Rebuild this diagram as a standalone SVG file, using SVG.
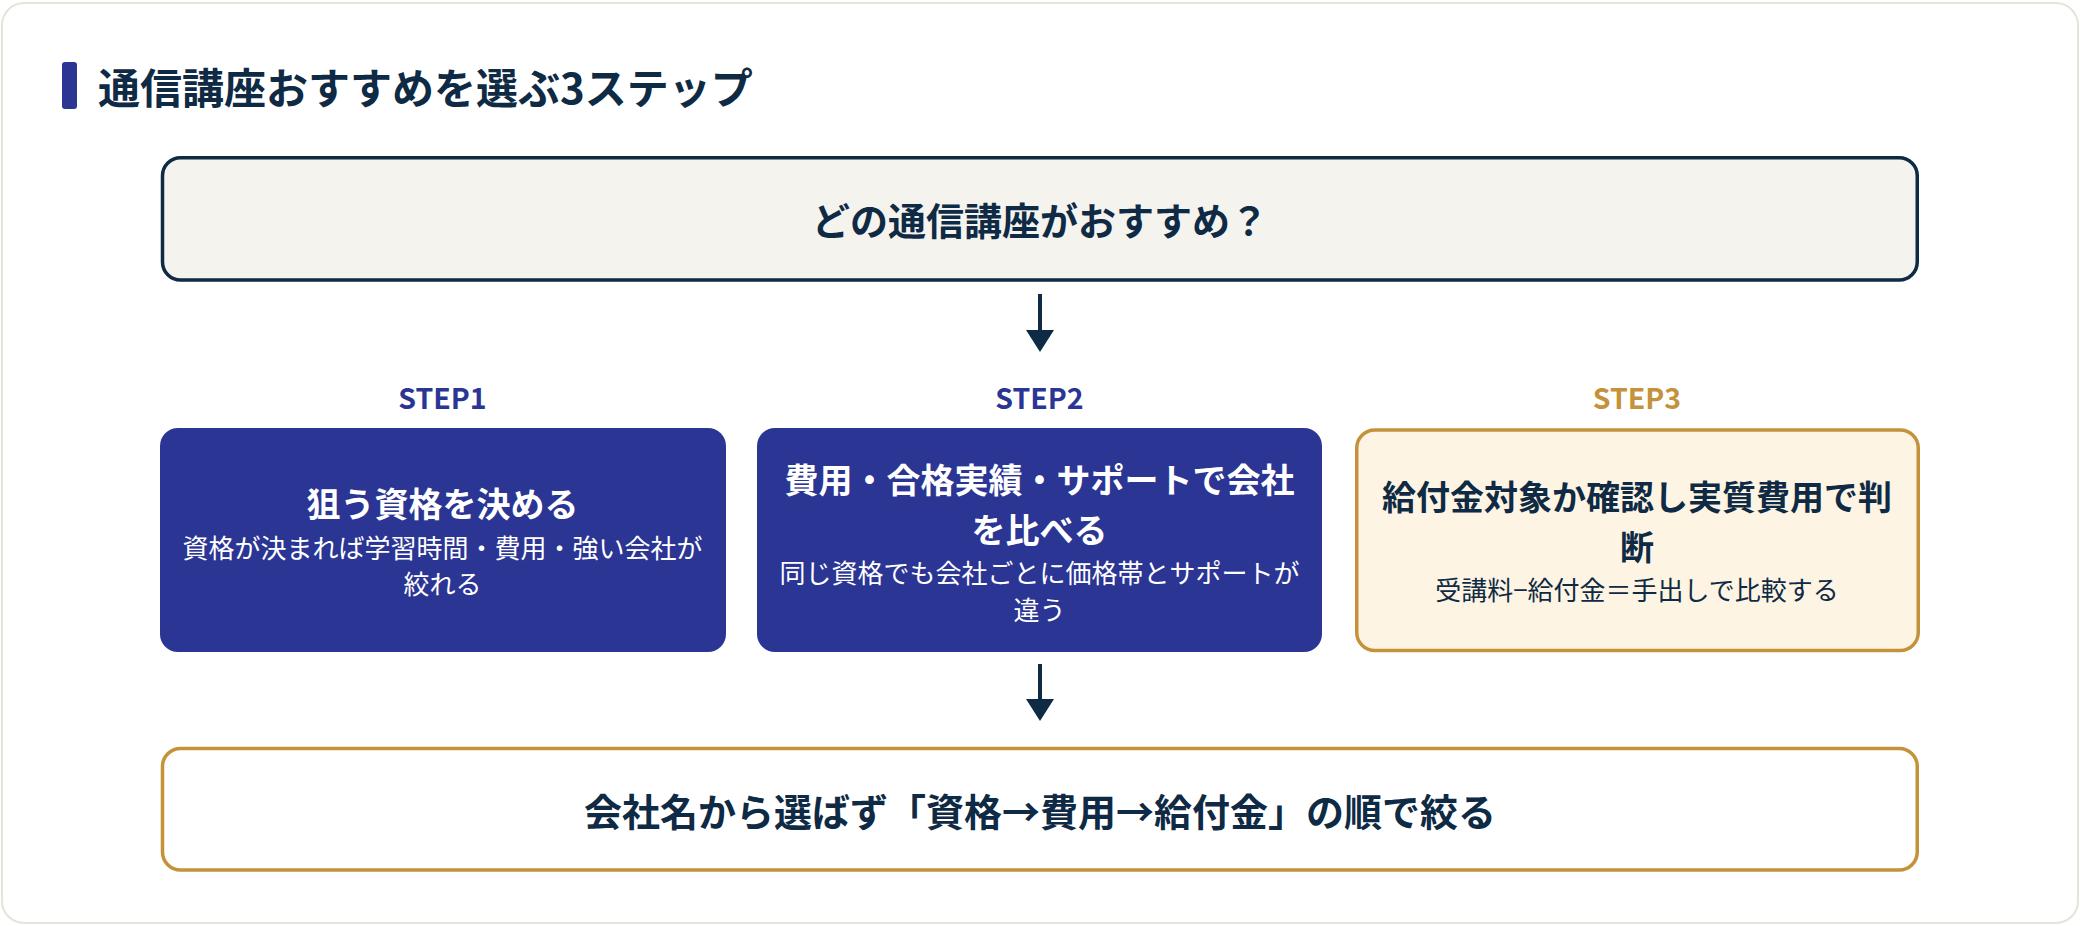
<svg xmlns="http://www.w3.org/2000/svg" width="2080" height="926" viewBox="0 0 2080 926">
<style>
text{font-family:"Noto Sans CJK JP","Noto Sans",sans-serif;}
.title{font-size:42px;font-weight:700;fill:#0f2a44;}
.big{font-size:38px;font-weight:700;fill:#0f2a44;text-anchor:middle;}
.step{font-size:28.5px;font-weight:700;text-anchor:middle;}
.h{font-size:34px;font-weight:700;text-anchor:middle;}
.s{font-size:26px;font-weight:400;text-anchor:middle;}
.w{fill:#ffffff;}
.n{fill:#0f2a44;}
.blue{fill:#2b3593;}
.gold{fill:#c4923a;}
.conn line{stroke:#0f2a44;stroke-width:4;}
.conn polygon{fill:#0f2a44;}
</style>
<rect x="0" y="0" width="2080" height="926" fill="#ffffff"/>
<rect x="2" y="3" width="2076" height="920" rx="22" fill="#ffffff" stroke="#e5e3da" stroke-width="2"/>
<g id="title">
<rect x="62" y="62" width="15" height="47" rx="3" fill="#2b3593"/>
<text class="title" x="98" y="104">通信講座おすすめを選ぶ3ステップ</text>
</g>
<g id="question">
<rect x="162.5" y="157.75" width="1754.75" height="122.2" rx="18" fill="#f4f3ee" stroke="#0f2a44" stroke-width="3.5"/>
<text class="big" x="1040" y="235">どの通信講座がおすすめ？</text>
</g>
<g id="step1">
<text class="step blue" x="442.5" y="409">STEP1</text>
<rect x="160" y="428" width="566" height="224" rx="18" fill="#2b3593"/>
<text class="h w" x="442.5" y="517">狙う資格を決める</text>
<text class="s w" x="442.5" y="558">資格が決まれば学習時間・費用・強い会社が</text>
<text class="s w" x="442.5" y="594">絞れる</text>
</g>
<g id="step2">
<text class="step blue" x="1039.5" y="409">STEP2</text>
<rect x="757" y="428" width="565" height="224" rx="18" fill="#2b3593"/>
<text class="h w" x="1039.5" y="493">費用・合格実績・サポートで会社</text>
<text class="h w" x="1039.5" y="543">を比べる</text>
<text class="s w" x="1039.5" y="583">同じ資格でも会社ごとに価格帯とサポートが</text>
<text class="s w" x="1039.5" y="620">違う</text>
</g>
<g id="step3">
<text class="step gold" x="1637" y="409">STEP3</text>
<rect x="1356.75" y="430" width="561.5" height="220.5" rx="18" fill="#fdf4e3" stroke="#c4923a" stroke-width="3.5"/>
<text class="h n" x="1637" y="510">給付金対象か確認し実質費用で判</text>
<text class="h n" x="1637" y="560">断</text>
<text class="s n" x="1637" y="600">受講料−給付金＝手出しで比較する</text>
</g>
<g id="conclusion">
<rect x="162.5" y="748.5" width="1754.75" height="121.5" rx="18" fill="#ffffff" stroke="#c4923a" stroke-width="3.5"/>
<text class="big" x="1040" y="826">会社名から選ばず「資格→費用→給付金」の順で絞る</text>
</g>
<g id="connectors" class="conn">
<line x1="1040" y1="294" x2="1040" y2="332"/>
<polygon points="1026,330 1054,330 1040,352"/>
<line x1="1040" y1="664" x2="1040" y2="701"/>
<polygon points="1026,699 1054,699 1040,721"/>
</g>
</svg>
